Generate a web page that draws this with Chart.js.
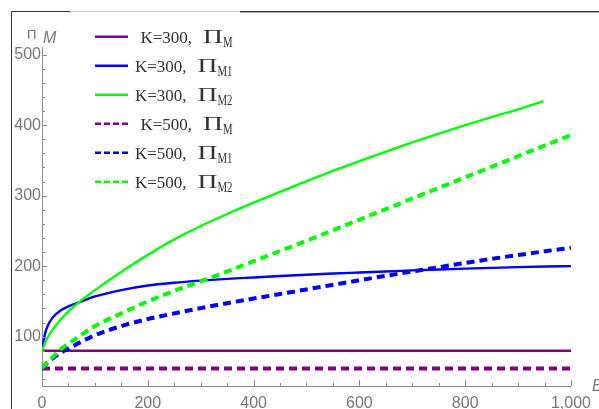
<!DOCTYPE html>
<html>
<head>
<meta charset="utf-8">
<script src="https://cdn.jsdelivr.net/npm/chart.js@4.4.1/dist/chart.umd.min.js"></script>
<style>
  html, body { margin: 0; padding: 0; background: #ffffff; }
  #wrap { width: 599px; height: 409px; position: relative; }
</style>
</head>
<body>
<div id="wrap"><canvas id="c" width="599" height="409"></canvas></div>
<script>
// Profit of the manufacturer versus E, for two capacity levels K.
const E_K300_M  = [0, 1000];
const PI_K300_M = [80, 80];

const E_K300_M1  = [0, 5, 10, 20, 35, 50, 75, 100, 150, 200, 250, 300, 350, 400, 450, 500, 550, 600, 650, 700, 750, 800, 850, 900, 950, 1000];
const PI_K300_M1 = [80, 102, 114, 127, 137, 143, 150, 157, 166, 172.5, 176.5, 179.5, 182, 184, 186, 187.8, 189.5, 191, 192.5, 194, 195.3, 196.5, 197.6, 198.6, 199.4, 200];

const E_K300_M2  = [0, 5, 10, 20, 35, 50, 75, 100, 150, 200, 250, 300, 350, 400, 450, 500, 550, 600, 650, 700, 750, 800, 850, 900, 948];
const PI_K300_M2 = [80, 90, 98, 110, 124, 136, 152, 166, 192, 216, 238, 257, 274, 290, 305.5, 320.5, 335, 349, 362.5, 375.5, 388, 400, 411.5, 422.5, 434];

const E_K500_M  = [0, 1000];
const PI_K500_M = [55, 55];

const E_K500_M1  = [0, 5, 10, 20, 35, 50, 75, 100, 150, 200, 250, 300, 350, 400, 450, 500, 550, 600, 650, 700, 750, 800, 850, 900, 950, 1000];
const PI_K500_M1 = [55, 59, 63, 69, 77, 83, 93, 102, 115, 125, 133, 140.5, 147.5, 154, 160.5, 167, 173.5, 180, 186.3, 192.5, 198.5, 204.5, 210.3, 215.8, 221, 226];

const E_K500_M2  = [0, 5, 10, 20, 35, 50, 75, 100, 150, 200, 250, 300, 350, 400, 450, 500, 550, 600, 650, 700, 750, 800, 850, 900, 950, 1000];
const PI_K500_M2 = [55, 60, 64, 71, 82, 90, 103, 115, 133, 150, 165, 178.5, 192.5, 207, 221.5, 236, 251, 266, 281, 296, 311, 326, 341, 356, 371, 386];

const SERIES_LABELS = ['K=300, Π_M', 'K=300, Π_M1', 'K=300, Π_M2', 'K=500, Π_M', 'K=500, Π_M1', 'K=500, Π_M2'];

const X_TICKS = [0, 200, 400, 600, 800, 1000];
const X_TICK_LABELS = ['0', '200', '400', '600', '800', '1,000'];
const Y_TICKS = [100, 200, 300, 400, 500];
const Y_TICK_LABELS = ['100', '200', '300', '400', '500'];

const PURPLE = '#800080', BLUE = '#0000ff', GREEN = '#00ff00';
const AXIS_GREY = '#8c8c8c', TEXT_GREY = '#777777';

function pts(xs, ys) { return xs.map((x, i) => ({ x: x, y: ys[i] })); }

function series(i, xs, ys, color, dashed) {
  return {
    label: SERIES_LABELS[i],
    data: pts(xs, ys),
    borderColor: color,
    backgroundColor: color,
    borderWidth: dashed ? 4 : 2.4,
    borderDash: dashed ? [8, 5] : [],
    borderCapStyle: 'butt',
    pointRadius: 0,
    fill: false,
    cubicInterpolationMode: 'monotone',
    order: 5 - i
  };
}

// Inward ticks with minor divisions, drawn on top of both axes.
const innerTicks = {
  id: 'innerTicks',
  afterDatasetsDraw(chart) {
    const { ctx, scales: { x, y } } = chart;
    ctx.save();
    ctx.strokeStyle = AXIS_GREY;
    ctx.lineWidth = 1;
    ctx.beginPath();
    for (let v = 0; v <= 1000; v += 50) {
      const px = Math.round(x.getPixelForValue(v)) + 0.5;
      const len = v % 200 === 0 ? 6 : 3;
      ctx.moveTo(px, y.bottom);
      ctx.lineTo(px, y.bottom - len);
    }
    for (let v = 40; v <= 500; v += 20) {
      const py = Math.round(y.getPixelForValue(v)) + 0.5;
      const len = v % 100 === 0 ? 5 : 3;
      ctx.moveTo(x.left, py);
      ctx.lineTo(x.left + len, py);
    }
    ctx.stroke();
    ctx.restore();
  }
};

// Legend with subscripted Π labels, axis names and the outer frame.
const decorations = {
  id: 'decorations',
  afterDraw(chart) {
    const ctx = chart.ctx;
    ctx.save();

    // outer frame
    ctx.lineWidth = 1;
    ctx.strokeStyle = '#333333';
    ctx.beginPath();
    ctx.moveTo(11.5, 409); ctx.lineTo(11.5, 11.5); ctx.lineTo(70, 11.5);
    ctx.moveTo(240, 11.5); ctx.lineTo(599, 11.5);
    ctx.stroke();
    ctx.strokeStyle = '#c8c8c8';
    ctx.beginPath();
    ctx.moveTo(70, 11.5); ctx.lineTo(240, 11.5);
    ctx.stroke();
    ctx.strokeStyle = '#aaaaaa';
    ctx.beginPath();
    ctx.moveTo(240, 12.5); ctx.lineTo(599, 12.5);
    ctx.stroke();

    // legend rows
    const rightEdge = 232.5;
    chart.data.datasets.forEach((ds, i) => {
      const cy = 37.8 + i * 29;
      ctx.save();
      ctx.strokeStyle = ds.borderColor;
      ctx.lineWidth = 2.5;
      ctx.lineCap = 'butt';
      ctx.setLineDash(ds.borderDash.length ? [6, 3] : []);
      ctx.beginPath();
      ctx.moveTo(95, cy - 1);
      ctx.lineTo(128, cy - 1);
      ctx.stroke();
      ctx.restore();

      const parts = ds.label.split('_');
      const head = parts[0].slice(0, -1).trim();
      const pi = parts[0].slice(-1);
      const sub = parts[1];
      const headFont = '17px "Liberation Serif"';
      const piFont = '19px "Liberation Serif"';
      const subFont = '15px "Liberation Serif"';
      const piScale = 1.45, subScale = 0.72, gap = 11;

      ctx.font = headFont; const wHead = ctx.measureText(head).width;
      ctx.font = piFont;   const wPi = ctx.measureText(pi).width * piScale;
      ctx.font = subFont;  const wSub = ctx.measureText(sub).width * subScale;
      let xx = rightEdge - (wHead + gap + wPi + wSub);
      const base = cy + 5.6;

      ctx.fillStyle = '#333333';
      ctx.textBaseline = 'alphabetic';
      ctx.textAlign = 'left';
      ctx.font = headFont;
      ctx.fillText(head, xx, base);
      xx += wHead + gap;

      ctx.save();
      ctx.translate(xx, base);
      ctx.scale(piScale, 1);
      ctx.font = piFont;
      ctx.fillText(pi, 0, 0);
      ctx.restore();
      xx += wPi;

      ctx.save();
      ctx.translate(xx, base + 4);
      ctx.scale(subScale, 1);
      ctx.font = subFont;
      ctx.fillText(sub, 0, 0);
      ctx.restore();
    });

    // axis names
    ctx.fillStyle = TEXT_GREY;
    ctx.textAlign = 'left';
    ctx.textBaseline = 'alphabetic';
    ctx.font = '13px "Liberation Sans"';
    ctx.fillText('Π', 27, 39);
    ctx.font = 'italic 16px "Liberation Sans"';
    ctx.fillText('M', 43, 43);
    ctx.fillText('E', 592, 391);

    ctx.restore();
  }
};

new Chart(document.getElementById('c'), {
  type: 'line',
  data: {
    datasets: [
      series(0, E_K300_M,  PI_K300_M,  PURPLE, false),
      series(1, E_K300_M1, PI_K300_M1, BLUE,   false),
      series(2, E_K300_M2, PI_K300_M2, GREEN,  false),
      series(3, E_K500_M,  PI_K500_M,  PURPLE, true),
      series(4, E_K500_M1, PI_K500_M1, BLUE,   true),
      series(5, E_K500_M2, PI_K500_M2, GREEN,  true)
    ]
  },
  options: {
    responsive: false,
    devicePixelRatio: 1,
    animation: false,
    layout: { padding: { top: 47.6, right: 23, left: 0, bottom: 0 } },
    plugins: { legend: { display: false }, tooltip: { enabled: false } },
    scales: {
      x: {
        type: 'linear',
        min: 0, max: 1000,
        afterBuildTicks(scale) { scale.ticks = X_TICKS.map(v => ({ value: v })); },
        afterFit(scale) { scale.height = 23; },
        grid: { display: false, drawTicks: false },
        border: { display: true, color: AXIS_GREY, width: 1 },
        ticks: {
          padding: 8,
          color: TEXT_GREY,
          font: { family: '"Liberation Sans"', size: 16 },
          maxRotation: 0,
          autoSkip: false,
          callback: (v, i) => X_TICK_LABELS[i]
        }
      },
      y: {
        type: 'linear',
        min: 30, max: 510,
        afterBuildTicks(scale) { scale.ticks = Y_TICKS.map(v => ({ value: v })); },
        afterFit(scale) { scale.width = 42; },
        grid: { display: false, drawTicks: false },
        border: { display: true, color: AXIS_GREY, width: 1 },
        ticks: {
          padding: 1,
          color: TEXT_GREY,
          font: { family: '"Liberation Sans"', size: 16 },
          autoSkip: false,
          callback: (v, i) => Y_TICK_LABELS[i]
        }
      }
    }
  },
  plugins: [innerTicks, decorations]
});
</script>
</body>
</html>
